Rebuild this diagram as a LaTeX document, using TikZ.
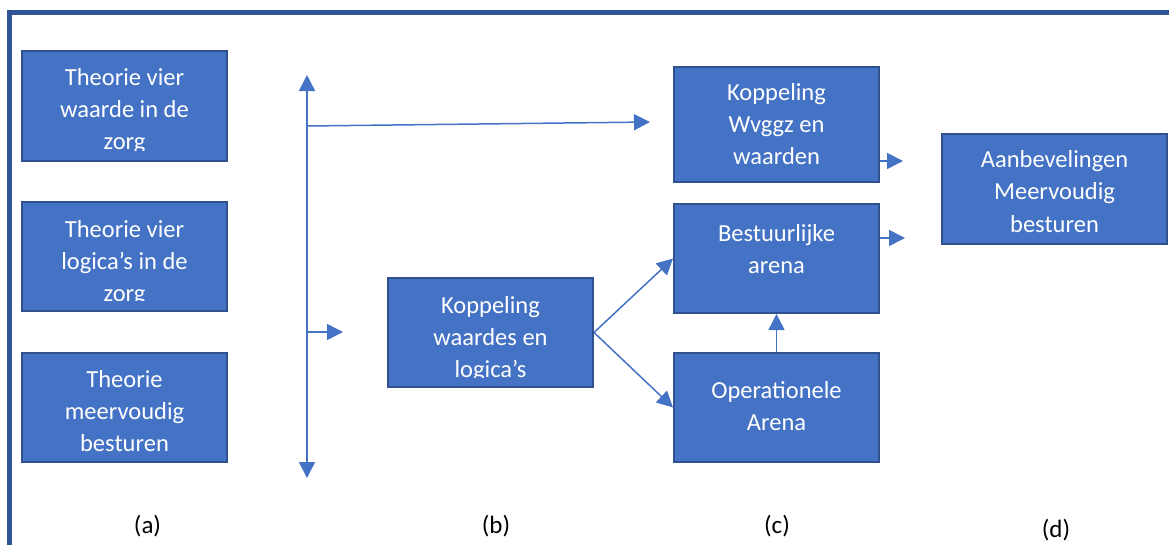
\documentclass[tikz,border=0pt]{standalone}
\usepackage{fontspec}
\setmainfont{Carlito}
\usetikzlibrary{arrows.meta}
\definecolor{boxfill}{HTML}{4472C4}
\definecolor{boxline}{HTML}{2F528F}
\definecolor{framecol}{HTML}{2F5597}
\definecolor{arrcol}{HTML}{4472C4}
\begin{document}
\begin{tikzpicture}[x=1pt,y=-1pt,
  box/.style={draw=boxline, line width=2pt, fill=boxfill, rectangle, inner sep=0pt},
  txt/.style={text=white, font=\fontsize{24.5}{32}\selectfont, anchor=base, inner sep=0pt},
  lbl/.style={text=black, font=\fontsize{25}{30}\selectfont, anchor=base, inner sep=0pt},
  conn/.style={draw=arrcol, line width=1.5pt, -{Triangle[length=16pt,width=16pt]}},
  dconn/.style={draw=arrcol, line width=1.5pt, {Triangle[length=16pt,width=16pt]}-{Triangle[length=16pt,width=16pt]}}]
\useasboundingbox (0,0) rectangle (1169,544);
% frame
\draw[framecol, line width=5pt, line join=miter] (9.5,560) -- (9.5,12) -- (1190,12);

% boxes
\node[box, minimum width=205pt, minimum height=110pt] (a1) at (124.5,106) {};
\node[box, minimum width=205pt, minimum height=109pt] (a2) at (124.5,256.5) {};
\node[box, minimum width=205pt, minimum height=109pt] (a3) at (124.5,407.5) {};
\node[box, minimum width=205pt, minimum height=109pt] (b) at (490.5,332.5) {};
\node[box, minimum width=205pt, minimum height=115pt] (c1) at (776.5,124.5) {};
\node[box, minimum width=205pt, minimum height=109pt] (c2) at (776.5,258.5) {};
\node[box, minimum width=205pt, minimum height=109pt] (c3) at (776.5,407.5) {};
\node[box, minimum width=225pt, minimum height=110pt] (d) at (1054.5,189) {};

% texts
\begin{scope}
\clip (a1.north west) rectangle ([yshift=12pt]a1.south east);
\node[txt] (a1t1) at (124.5,85) {Theorie vier};
\node[txt] (a1t2) at (124.5,117) {waarde in de};
\node[txt] (a1t3) at (124.5,149) {zorg};
\end{scope}
\begin{scope}
\clip (a2.north west) rectangle ([yshift=12pt]a2.south east);
\node[txt] (a2t1) at (124.5,237) {Theorie vier};
\node[txt] (a2t2) at (124.5,269) {logica’s in de};
\node[txt] (a2t3) at (124.5,301) {zorg};
\end{scope}
\node[txt] (a3t1) at (124.5,387) {Theorie};
\node[txt] (a3t2) at (124.5,419) {meervoudig};
\node[txt] (a3t3) at (124.5,451) {besturen};
\begin{scope}
\clip (b.north west) rectangle ([yshift=11pt]b.south east);
\node[txt] (bt1) at (490.5,313) {Koppeling};
\node[txt] (bt2) at (490.5,345) {waardes en};
\node[txt] (bt3) at (490.5,377) {logica’s};
\end{scope}
\node[txt] (c1t1) at (776.5,100) {Koppeling};
\node[txt] (c1t2) at (776.5,132) {Wvggz en};
\node[txt] (c1t3) at (776.5,164) {waarden};
\node[txt] (c2t1) at (776.5,241) {Bestuurlijke};
\node[txt] (c2t2) at (776.5,273) {arena};
\node[txt] (c3t1) at (776.5,398) {Operationele};
\node[txt] (c3t2) at (776.5,430) {Arena};
\node[txt] (dt1) at (1054.5,167) {Aanbevelingen};
\node[txt] (dt2) at (1054.5,199.5) {Meervoudig};
\node[txt] (dt3) at (1054.5,232) {besturen};

% labels
\node[lbl] (la) at (147.5,533) {(a)};
\node[lbl] (lb) at (496,533) {(b)};
\node[lbl] (lc) at (777,533) {(c)};
\node[lbl] (ld) at (1056,537) {(d)};

% connectors
\coordinate (vt) at (307,75);
\coordinate (vb) at (307,478);
\coordinate (j1) at (307,126);
\coordinate (t1) at (650,122);
\coordinate (j2) at (307,332);
\coordinate (t2) at (343,332);
\coordinate (e1) at (903,161);
\coordinate (e2) at (905,238);
\draw[dconn] (vb) -- (vt);
\draw[conn] (j1) -- (t1);
\draw[conn] (j2) -- (t2);
\draw[conn] (b.east) -- (c2.west);
\draw[conn] (b.east) -- (c3.west);
\draw[conn] (c3.north) -- (c2.south);
\draw[conn] (c1.east |- e1) -- (e1);
\draw[conn] (c2.east |- e2) -- (e2);
\end{tikzpicture}
\end{document}
